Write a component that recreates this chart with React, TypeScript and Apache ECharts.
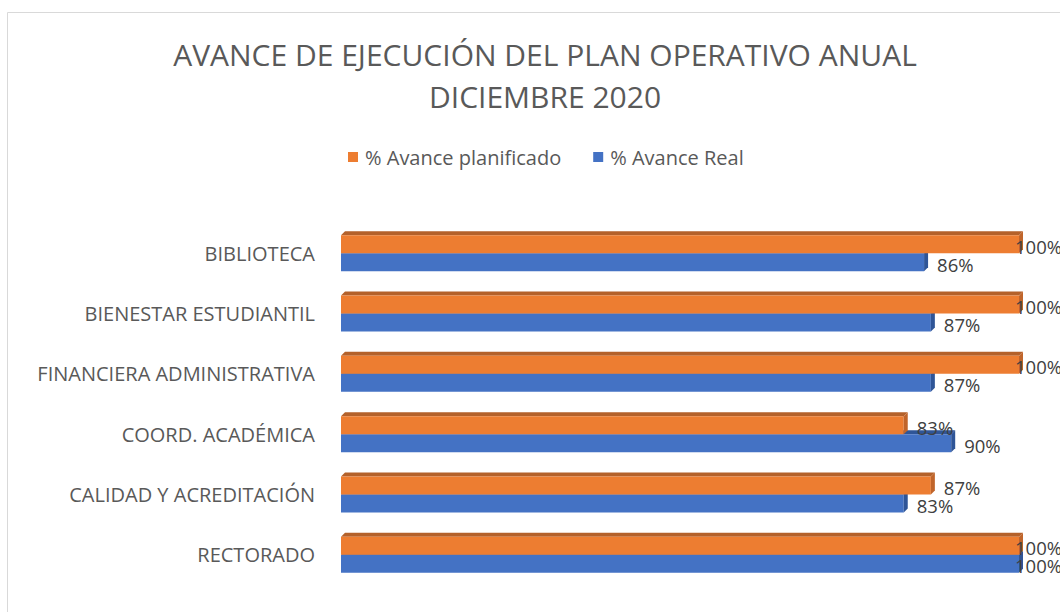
import React, { useEffect, useRef } from "react";
import * as echarts from "echarts";

const categories = [
  "BIBLIOTECA",
  "BIENESTAR ESTUDIANTIL",
  "FINANCIERA ADMINISTRATIVA",
  "COORD. ACADÉMICA",
  "CALIDAD Y ACREDITACIÓN",
  "RECTORADO",
];
const planificado = [100, 100, 100, 83, 87, 100];
const real = [86, 87, 87, 90, 83, 100];
const seriesNames = ["% Avance planificado", "% Avance Real"];
const titleLines = ["AVANCE DE EJECUCIÓN DEL PLAN OPERATIVO ANUAL", "DICIEMBRE 2020"];

const FONT = "'Open Sans', sans-serif";

const palette = {
  orange: { front: "#ed7d31", top: "#b4612a", side: "#c0652b" },
  blue: { front: "#4472c4", top: "#2f5597", side: "#2f5597" },
};

function make3dRender(colors: any, upper: boolean) {
  return (params: any, api: any) => {
    const cat = api.value(0);
    const val = api.value(1);
    const p0 = api.coord([0, cat]);
    const p1 = api.coord([val, cat]);
    const band = api.size([0, 1])[1];
    const h = band * 0.298;
    const d = 4;
    const yc = p0[1];
    const yTop = upper ? yc - h : yc;
    const yBot = upper ? yc : yc + h;
    const x0 = p0[0];
    const x1 = p1[0];
    const labelX = Math.min(x1 + 13, 1015);
    return {
      type: "group",
      children: [
        {
          type: "polygon",
          shape: { points: [[x0, yTop], [x0 + d, yTop - d], [x1 + d, yTop - d], [x1, yTop]] },
          style: { fill: colors.top },
        },
        {
          type: "rect",
          shape: { x: x0, y: yTop, width: x1 - x0, height: yBot - yTop },
          style: { fill: colors.front },
        },
        {
          type: "polygon",
          shape: { points: [[x1, yTop], [x1 + d, yTop - d], [x1 + d, yBot - d], [x1, yBot]] },
          style: { fill: colors.side },
        },
        {
          type: "text",
          style: {
            text: val + "%",
            x: labelX,
            y: (yTop + yBot) / 2 + 2,
            fill: "#404040",
            font: `18.5px ${FONT}`,
            verticalAlign: "middle",
            align: "left",
          },
        },
      ],
    };
  };
}

export default function App() {
  const ref = useRef<HTMLDivElement>(null);
  useEffect(() => {
    const chart = echarts.init(ref.current!, undefined, { renderer: "svg" });
    chart.setOption({
      animation: false,
      backgroundColor: "#ffffff",
      title: {
        text: titleLines.join("\n"),
        left: 540,
        top: 28,
        textAlign: "center",
        textStyle: {
          fontFamily: FONT,
          fontSize: 30,
          fontWeight: "normal",
          color: "#595959",
          lineHeight: 42,
        },
      },
      legend: {
        data: [
          { name: seriesNames[0], itemStyle: { color: palette.orange.front } },
          { name: seriesNames[1], itemStyle: { color: palette.blue.front } },
        ],
        left: 343,
        top: 142,
        icon: "rect",
        itemWidth: 10,
        itemHeight: 10,
        itemGap: 32,
        textStyle: { fontFamily: FONT, fontSize: 20, color: "#595959", padding: [0, 0, 0, 2] },
      },
      grid: { left: 341, right: 41, top: 223, height: 362 },
      xAxis: { type: "value", min: 0, max: 100, show: false },
      yAxis: {
        type: "category",
        data: categories,
        inverse: true,
        axisLine: { show: false },
        axisTick: { show: false },
        splitLine: { show: false },
        axisLabel: { margin: 26, fontFamily: FONT, fontSize: 20, color: "#595959" },
      },
      graphic: [
        {
          type: "rect",
          shape: { x: 7.5, y: 12.5, width: 1100, height: 700 },
          style: { fill: "none", stroke: "#d9d9d9", lineWidth: 1 },
          silent: true,
          z: -10,
        },
      ],
      series: [
        {
          name: seriesNames[1],
          type: "custom",
          renderItem: make3dRender(palette.blue, false),
          data: real.map((v, i) => [i, v]),
          encode: { y: 0, x: 1 },
          itemStyle: { color: palette.blue.front },
          z: 2,
        },
        {
          name: seriesNames[0],
          type: "custom",
          renderItem: make3dRender(palette.orange, true),
          data: planificado.map((v, i) => [i, v]),
          encode: { y: 0, x: 1 },
          itemStyle: { color: palette.orange.front },
          z: 3,
        },
      ],
    });
    return () => chart.dispose();
  }, []);
  return (
    <div
      ref={ref}
      style={{ position: "absolute", left: 0, top: 0, width: 1060, height: 612 }}
    />
  );
}
